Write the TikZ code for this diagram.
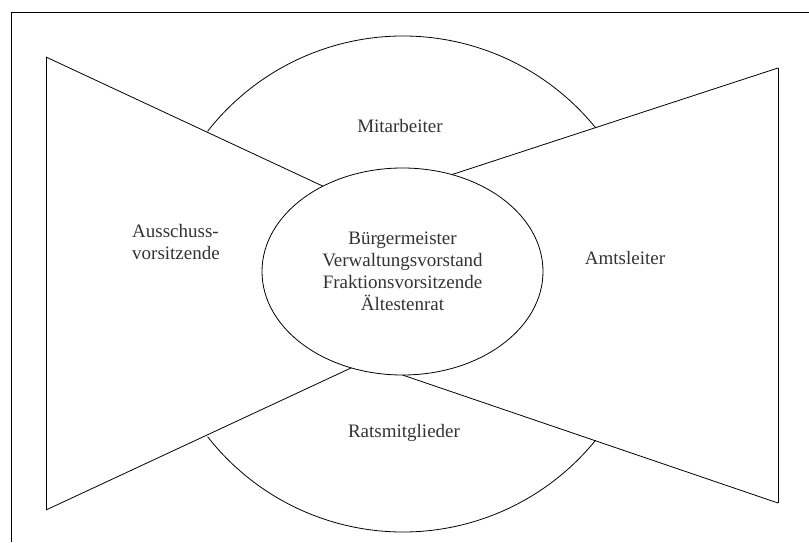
\documentclass[tikz,border=0pt]{standalone}
\usepackage{fontspec}
\setmainfont{Liberation Serif}
\usetikzlibrary{shapes, positioning, calc}

\begin{document}
\begin{tikzpicture}[x=1pt, y=1pt, line width=0.8pt,
	lbl/.style={text=black!80, font=\fontsize{19}{22}\selectfont, align=center}]
	\useasboundingbox (0,0) rectangle (809,542);
	\draw (11,0) -- (11,530) -- (809,530);
	\coordinate (lt) at (46,485);
	\coordinate (lb) at (46,32);
	\coordinate (rt) at (778,474);
	\coordinate (rb) at (778,39);
	\coordinate (ring) at (403,258);
	\node[draw, ellipse, minimum width=281pt, minimum height=207pt, inner sep=0pt, outer sep=0pt, lbl] (mid) at (402.5,270.5)
		{B\"urgermeister\\Verwaltungsvorstand\\Fraktionsvorsitzende\\\"Altestenrat};
	\node[lbl] (staff) at (400,416) {Mitarbeiter};
	\node[lbl] (council) at (404,109) {Ratsmitglieder};
	\node[lbl, align=left] (chairs) at (176,300) {Ausschuss-\\vorsitzende};
	\node[lbl] (heads) at (625,284) {Amtsleiter};
	\draw (lt) -- (lb);
	\draw (rt) -- (rb);
	\foreach \from/\to in {lt/mid.133, lb/mid.242, rt/mid.63, rb/mid.270}
		\draw (\from) -- (\to);
	\draw ([shift={(142:248)}]ring) arc[start angle=142, end angle=39, radius=248];
	\draw ([shift={(218:248)}]ring) arc[start angle=218, end angle=321, radius=248];
\end{tikzpicture}
\end{document}
